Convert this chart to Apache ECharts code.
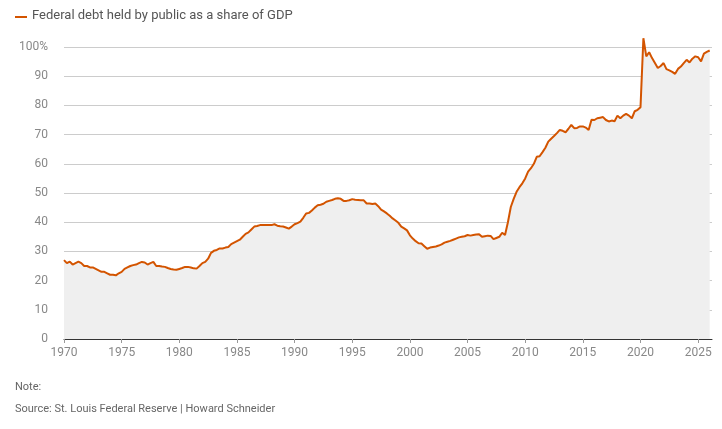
<!DOCTYPE html>
<html><head><meta charset="utf-8">
<script src="https://cdn.jsdelivr.net/npm/echarts@6/dist/echarts.min.js"></script>
<style>html,body{margin:0;padding:0;background:#fff}#c{width:722px;height:429px}</style>
</head><body><div id="c"></div>
<script>
// quarterly values, 1970 Q1 onward
var startYear = 1970;
var debtShare = [
  27,26,26.5,25.5, 26,26.5,26,25, 25,24.5,24.5,24, 23.5,23,23,22.5,
  22,22,21.8,22.5, 23,24,24.5,25, 25.3,25.5,26,26.4, 26.2,25.5,26,26.4,
  25,25,24.8,24.7, 24.3,24,23.8,23.7, 24,24.3,24.7,24.7, 24.5,24.2,24.1,25,
  26,26.4,27.5,29.5, 30.2,30.5,31,31, 31.3,31.5,32.5,33, 33.5,34,35,36,
  36.5,37.5,38.5,38.7, 39,39,39,39, 39,39.3,38.8,38.6, 38.5,38.2,37.8,38.5,
  39.3,39.7,40.2,41.5, 43,43.2,44,45, 45.8,46,46.3,47, 47.3,47.6,48,48.2,
  48,47.3,47.3,47.5, 47.9,47.7,47.6,47.5, 47.5,46.4,46.4,46.2, 46.4,45.5,44.3,43.7,
  43,42.2,41.3,40.6, 39.8,38.5,37.9,37.2, 35.5,34.4,33.5,32.8, 32.7,31.8,30.9,31.3,
  31.5,31.7,32,32.4, 33,33.3,33.6,34, 34.4,34.8,35,35.2, 35.6,35.4,35.6,35.8,
  35.9,35,35.2,35.4, 35.3,34.2,34.6,35, 36.4,35.6,40,45.2, 48,50.4,52,53.3,
  55,57.3,58.5,60, 62.4,62.6,64,65.5, 67.6,68.6,69.5,70.5, 71.6,71.3,70.8,72,
  73.3,72.2,72.3,72.8, 72.8,72.4,71.6,75.1, 75,75.6,75.8,76, 75,74.5,74.8,74.6,
  76.5,75.6,76.5,77.1, 76.5,75.6,78,78.5, 79.4,103,96.8,98.2, 96.2,94.5,92.8,93.5,
  94.5,92.4,92,91.5, 90.8,92.5,93.3,94.5, 95.6,94.7,96,96.8, 96.5,95.1,97.7,98.3,
  98.8
];
var yTicks = [0,10,20,30,40,50,60,70,80,90,100];

var points = debtShare.map(function (v, i) { return [startYear + i / 4, v]; });

var chart = echarts.init(document.getElementById('c'));
chart.setOption({
  animation: false,
  textStyle: { fontFamily: 'Roboto' },
  grid: { left: 64, right: 10, top: 47, bottom: 90 },
  graphic: [
    { type: 'rect', left: 15, top: 16, shape: { width: 12, height: 2 }, style: { fill: '#d35400' } },
    { type: 'text', left: 32, top: 9, style: { text: 'Federal debt held by public as a share of GDP', fill: '#555', font: '13px Roboto' } },
    { type: 'text', left: 15, top: 382, style: { text: 'Note:', fill: '#666', font: '11px Roboto' } },
    { type: 'text', left: 15, top: 404, style: { text: 'Source: St. Louis Federal Reserve | Howard Schneider', fill: '#666', font: '11px Roboto' } }
  ],
  xAxis: {
    type: 'value', min: 1970, max: 2026.2, interval: 5,
    axisLine: { show: true, lineStyle: { color: '#333' } },
    axisTick: { show: true, length: 4, lineStyle: { color: '#999' } },
    axisLabel: { color: '#888', fontSize: 12, showMaxLabel: false, formatter: function (v) { return v; } },
    splitLine: { show: false }
  },
  yAxis: {
    type: 'value', min: 0, max: 100, interval: 10,
    axisLine: { show: false }, axisTick: { show: false },
    axisLabel: { color: '#888', fontSize: 12, margin: 16,
      formatter: function (v) { return v === yTicks[yTicks.length - 1] ? v + '%' : v; } },
    splitLine: { lineStyle: { color: '#ccc' } }
  },
  series: [{
    type: 'line', data: points, showSymbol: false, clip: false,
    lineStyle: { color: '#d35400', width: 2 },
    itemStyle: { color: '#d35400' },
    areaStyle: { color: '#efefef', opacity: 1 }
  }]
});
</script></body></html>
